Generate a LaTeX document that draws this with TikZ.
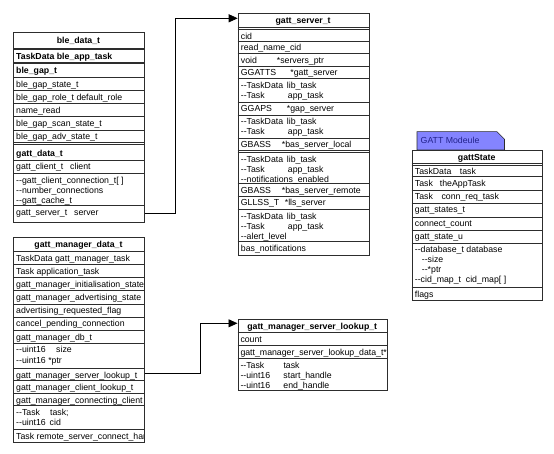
\documentclass[tikz,border=0pt]{standalone}
\usepackage{fontspec}
\setmainfont{Liberation Sans}
\usetikzlibrary{arrows.meta}
\definecolor{tabfill}{RGB}{132,132,255}
\definecolor{tabtext}{RGB}{35,35,140}
\definecolor{lin}{RGB}{45,45,45}
\begin{document}
\begin{tikzpicture}[x=1pt,y=-1pt,
  frame/.style={draw=lin, line width=0.8pt, inner sep=0pt, anchor=north west},
  sep/.style={draw=lin, line width=0.6pt},
  cell/.style={anchor=north west, inner sep=0pt, align=left, font=\fontsize{8.75}{10}\selectfont},
  ttl/.style={anchor=north, inner sep=0pt, font=\fontsize{8.75}{10}\selectfont\bfseries},
  arr/.style={draw=black, line width=0.8pt, -{Triangle[length=9pt,width=8pt]}}]
\fill[white] (0,0) rectangle (554,454);
\useasboundingbox (0,0) rectangle (554,454);

% ---------------- ble_data_t ----------------
\node[frame, minimum width=131pt, minimum height=190pt] (bledata) at (13,32) {};
\node[ttl] (bledatat) at (78.5,36.2) {\strut ble\_data\_t};
\foreach \y in {48,49.8,62,63.8,77.3,90.3,103.5,116.7,129.9,142.7,144.5,160,173.3,205.7}
  \draw[sep] (13,\y) -- (144,\y);
\foreach \t/\s [count=\i] in {
  49.8/{\textbf{TaskData ble\_app\_task}},
  63.8/{\textbf{ble\_gap\_t}},
  77.3/{ble\_gap\_state\_t},
  90.3/{ble\_gap\_role\_t default\_role},
  103.5/{name\_read},
  116.7/{ble\_gap\_scan\_state\_t},
  129.9/{ble\_gap\_adv\_state\_t},
  146.2/{\textbf{gatt\_data\_t}},
  160/{\makebox[54pt][l]{gatt\_client\_t}client},
  173.3/{-{}-gatt\_client\_connection\_t[ ]\\-{}-number\_connections\\-{}-gatt\_cache\_t},
  205.7/{\makebox[58pt][l]{gatt\_server\_t}server}}
  \node[cell] (bd\i) at (16,\t+2.8) {\strut\s};

% ---------------- gatt_server_t ----------------
\node[frame, minimum width=130.8pt, minimum height=241.7pt] (gsbox) at (237.7,13.3) {};
\node[ttl] (gsboxt) at (303.1,16.8) {\strut gatt\_server\_t};
\foreach \y in {27.5,29.3,41,53.5,66,78.5,102,115,138,150.5,152.3,183.3,196,209.2,241.7}
  \draw[sep] (237.7,\y) -- (368.5,\y);
\foreach \t/\s [count=\i] in {
  29.3/{cid},
  41/{read\_name\_cid},
  53.5/{\makebox[36pt][l]{void}*servers\_ptr},
  66/{\makebox[49.5pt][l]{GGATTS}*gatt\_server},
  78.5/{\makebox[46pt][l]{-{}-TaskData}lib\_task\\\makebox[47pt][l]{-{}-Task}app\_task},
  102/{\makebox[46pt][l]{GGAPS}*gap\_server},
  115/{\makebox[46pt][l]{-{}-TaskData}lib\_task\\\makebox[47pt][l]{-{}-Task}app\_task},
  138/{\makebox[41pt][l]{GBASS}*bas\_server\_local},
  152.3/{\makebox[46pt][l]{-{}-TaskData}lib\_task\\\makebox[47pt][l]{-{}-Task}app\_task\\-{}-notifications\_enabled},
  183.3/{\makebox[41pt][l]{GBASS}*bas\_server\_remote},
  196/{\makebox[44pt][l]{GLLSS\_T}*lls\_server},
  209.2/{\makebox[46pt][l]{-{}-TaskData}lib\_task\\\makebox[47pt][l]{-{}-Task}app\_task\\-{}-alert\_level},
  241.7/{bas\_notifications}}
  \node[cell] (gs\i) at (240.7,\t+2.8) {\strut\s};

% ---------------- gatt_manager_data_t ----------------
\node[frame, minimum width=131pt, minimum height=205pt] (gmbox) at (13,237) {};
\node[ttl] (gmboxt) at (78.5,240.5) {\strut gatt\_manager\_data\_t};
\foreach \y in {251.7,264.7,277.8,290.8,303.9,316.9,330,343,368,380.7,393.3,405.7,429.3}
  \draw[sep] (13,\y) -- (144,\y);
\begin{scope}
\clip (13,251) rectangle (143.3,442);
\foreach \t/\s [count=\i] in {
  251.7/{TaskData gatt\_manager\_task},
  264.7/{Task application\_task},
  277.8/{gatt\_manager\_initialisation\_state},
  290.8/{gatt\_manager\_advertising\_state},
  303.9/{advertising\_requested\_flag},
  316.9/{cancel\_pending\_connection},
  330/{gatt\_manager\_db\_t},
  343/{\makebox[40pt][l]{-{}-uint16}size\\-{}-uint16 *ptr},
  368/{gatt\_manager\_server\_lookup\_t},
  380.7/{gatt\_manager\_client\_lookup\_t},
  393.3/{gatt\_manager\_connecting\_client},
  405.7/{\makebox[34pt][l]{-{}-Task}task;\\-{}-uint16\, cid},
  429.3/{Task remote\_server\_connect\_handle}}
  \node[cell] (gm\i) at (16,\t+2.8) {\strut\s};
\end{scope}

% ---------------- gatt_manager_server_lookup_t ----------------
\node[frame, minimum width=149.5pt, minimum height=70.7pt] (lkbox) at (237.5,319.3) {};
\node[ttl] (lkboxt) at (312.25,322.3) {\strut gatt\_manager\_server\_lookup\_t};
\foreach \y in {332,345,358.3}
  \draw[sep] (237.5,\y) -- (387,\y);
\begin{scope}
\clip (237.5,332) rectangle (386.6,390);
\foreach \t/\s [count=\i] in {
  332/{count},
  345/{gatt\_manager\_server\_lookup\_data\_t*},
  358.3/{\makebox[43pt][l]{-{}-Task}task\\\makebox[43pt][l]{-{}-uint16}start\_handle\\\makebox[43pt][l]{-{}-uint16}end\_handle}}
  \node[cell] (lk\i) at (240.3,\t+2.8) {\strut\s};
\end{scope}

% ---------------- GATT Modeule tab ----------------
\draw[sep, fill=tabfill] (417,131.7) -- (497,131.7) -- (504.5,139.2) -- (504.5,150) -- (417,150) -- cycle;
\node[cell, text=tabtext] (tab) at (420.5,136.6) {\strut GATT Modeule};

% ---------------- gattState ----------------
\node[frame, minimum width=130pt, minimum height=150pt] (gtbox) at (411.7,150) {};
\node[ttl] (gtboxt) at (476.7,153.3) {\strut gattState};
\foreach \y in {163.3,165,176.7,190,203,217,230,243,287.3}
  \draw[sep] (411.7,\y) -- (541.7,\y);
\foreach \t/\s [count=\i] in {
  165/{\makebox[45pt][l]{TaskData}task},
  176.7/{\makebox[25pt][l]{Task}theAppTask},
  190/{\makebox[26.7pt][l]{Task}conn\_req\_task},
  203/{gatt\_states\_t},
  217/{connect\_count},
  230/{gatt\_state\_u},
  243/{-{}-database\_t database\\\hspace*{7pt}-{}-size\\\hspace*{7pt}-{}-*ptr\\\makebox[51pt][l]{-{}-cid\_map\_t}cid\_map[ ]},
  287.3/{flags}}
  \node[cell] (gt\i) at (414.7,\t+2.8) {\strut\s};

% ---------------- connectors ----------------
\coordinate (bend1) at (175,18.3);
\draw[arr] (bd11.west -| bledata.east) -| (bend1) -- (bend1 -| gsbox.west);
\coordinate (bend2) at (200,323.3);
\draw[arr] ([yshift=2.5pt]gm9.west -| gmbox.east) -| (bend2) -- (bend2 -| lkbox.west);
\end{tikzpicture}
\end{document}
